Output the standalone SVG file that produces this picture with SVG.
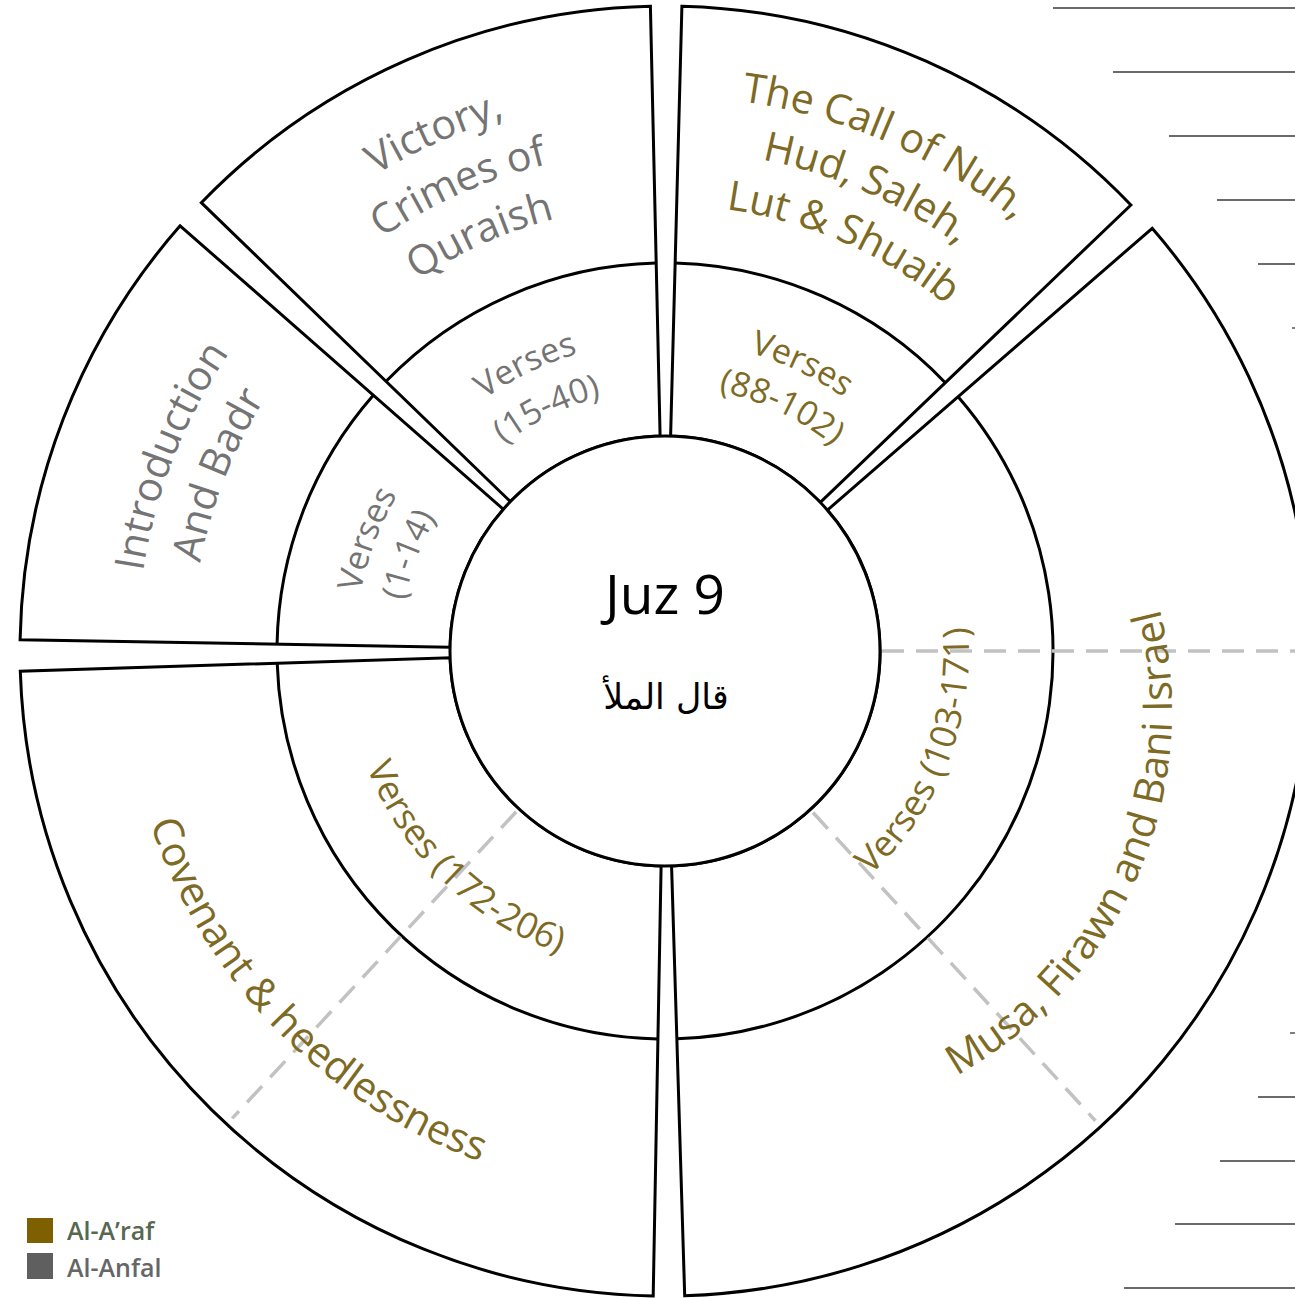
<svg xmlns="http://www.w3.org/2000/svg" width="1295" height="1298" viewBox="0 0 1295 1298">
  <style>
    .wedge { fill: #ffffff; stroke: #000000; stroke-width: 3; stroke-linejoin: miter; }
    .ring { fill: none; stroke: #000000; stroke-width: 3; }
    .hub { fill: #ffffff; stroke: #000000; stroke-width: 3; }
    .dash { fill: none; stroke: #c2c2c2; stroke-width: 3.5; stroke-dasharray: 22 12; }
    .rule { stroke: #3a3a3a; stroke-width: 1.3; }
    .lbl { font-family: "Open Sans", "Noto Sans", sans-serif; text-anchor: middle; }
    .big { font-size: 41px; }
    .vs { font-size: 34px; }
    .vl { font-size: 36px; }
    .gold { fill: #7d6a24; }
    .grey { fill: #747474; }
  </style>

  <defs>
    <!-- clockwise arcs over the top of a circle centred on the origin (letters face outward) -->
    <path id="cw557" d="M-554.88,-48.55 A557,557 0 0 1 554.88,-48.55"/>
    <path id="cw555" d="M-552.89,-48.37 A555,555 0 0 1 552.89,-48.37"/>
    <path id="cw528" d="M-525.99,-46.02 A528,528 0 0 1 525.99,-46.02"/>
    <path id="cw501" d="M-499.09,-43.67 A501,501 0 0 1 499.09,-43.67"/>
    <path id="cw473" d="M-471.20,-41.23 A473,473 0 0 1 471.20,-41.23"/>
    <path id="cw446" d="M-444.30,-38.87 A446,446 0 0 1 444.30,-38.87"/>
    <path id="cw310" d="M-308.82,-27.02 A310,310 0 0 1 308.82,-27.02"/>
    <path id="cw265" d="M-263.99,-23.10 A265,265 0 0 1 263.99,-23.10"/>
    <path id="cw262" d="M-261.00,-22.84 A262,262 0 0 1 261.00,-22.84"/>
    <!-- counter-clockwise arcs under the bottom (letters face inward) -->
    <path id="ccw543" d="M-540.93,47.33 A543,543 0 0 0 540.93,47.33"/>
    <path id="ccw418" d="M-416.41,36.43 A418,418 0 0 0 416.41,36.43"/>
    <path id="ccw320" d="M-318.78,27.89 A320,320 0 0 0 318.78,27.89"/>
    <path id="ccw304" d="M-302.84,26.50 A304,304 0 0 0 302.84,26.50"/>
  </defs>

  <rect x="0" y="0" width="1295" height="1298" fill="#ffffff"/>

  <!-- thin rules along the right margin -->
  <g id="margin-rules">
    <line class="rule" x1="1053" y1="8" x2="1295" y2="8"/>
    <line class="rule" x1="1113" y1="72" x2="1295" y2="72"/>
    <line class="rule" x1="1169" y1="136" x2="1295" y2="136"/>
    <line class="rule" x1="1217" y1="200" x2="1295" y2="200"/>
    <line class="rule" x1="1258" y1="264" x2="1295" y2="264"/>
    <line class="rule" x1="1292" y1="328" x2="1295" y2="328"/>
    <line class="rule" x1="1290" y1="1033" x2="1295" y2="1033"/>
    <line class="rule" x1="1258" y1="1097" x2="1295" y2="1097"/>
    <line class="rule" x1="1220" y1="1161" x2="1295" y2="1161"/>
    <line class="rule" x1="1175" y1="1224" x2="1295" y2="1224"/>
    <line class="rule" x1="1124" y1="1288" x2="1295" y2="1288"/>
  </g>

  <!-- ring wedges: centre (665,651), radii 215 / 388 / 645 -->
  <g id="intro-badr">
    <path class="wedge" d="M20.1,639.7 A645,645 0 0 1 180.1,225.8 L503.4,509.3 A215,215 0 0 0 450.03,647.25 Z"/>
    <path class="ring" d="M277.06,644.23 A388,388 0 0 1 373.3,395.2"/>
  </g>
  <g id="victory-quraish">
    <path class="wedge" d="M201.3,202.7 A645,645 0 0 1 650.4,6.2 L660.1,436.1 A215,215 0 0 0 510.4,501.6 Z"/>
    <path class="ring" d="M386.1,381.3 A388,388 0 0 1 656.2,263.1"/>
  </g>
  <g id="call-of-nuh">
    <path class="wedge" d="M681.9,6.2 A645,645 0 0 1 1130.9,205.0 L820.3,502.3 A215,215 0 0 0 670.6,436.1 Z"/>
    <path class="ring" d="M675.2,263.1 A388,388 0 0 1 945.3,382.7"/>
  </g>
  <g id="musa-firawn">
    <path class="wedge" d="M1152.2,228.3 A645,645 0 0 1 684.7,1295.7 L671.57,865.9 A215,215 0 0 0 827.4,510.1 Z"/>
    <path class="ring" d="M958.1,396.7 A388,388 0 0 1 676.85,1038.8"/>
  </g>
  <g id="covenant">
    <path class="wedge" d="M653.2,1295.9 A645,645 0 0 1 20.3,671.3 L450.1,657.75 A215,215 0 0 0 661.1,866.0 Z"/>
    <path class="ring" d="M657.9,1038.9 A388,388 0 0 1 277.2,663.2"/>
  </g>

  <!-- dashed dividers -->
  <g id="connectors">
    <line class="dash" x1="882" y1="651" x2="1300" y2="651"/>
    <line class="dash" x1="813" y1="812.5" x2="1095.4" y2="1120.7"/>
    <line class="dash" x1="516.2" y1="811.7" x2="232.2" y2="1118.4"/>
  </g>

  <g id="hub">
    <circle class="hub" cx="665" cy="651" r="215"/>
    <text x="665" y="614" font-family="'Open Sans', 'Noto Sans', sans-serif" font-size="55" text-anchor="middle" fill="#000000">Juz 9</text>
    <text x="666" y="709" font-family="'DejaVu Sans', 'Noto Sans', sans-serif" font-size="35" text-anchor="middle" fill="#000000">قال الملأ</text>
  </g>

  <!-- curved labels -->
  <g id="labels">
    <g transform="translate(665,651) rotate(-68.5)">
      <text class="lbl big grey"><textPath href="#cw528" startOffset="50%">Introduction</textPath></text>
      <text class="lbl big grey"><textPath href="#cw473" startOffset="50%">And Badr</textPath></text>
    </g>
    <g transform="translate(665,651) rotate(-69.4)">
      <text class="lbl vs grey"><textPath href="#cw310" startOffset="50%">Verses</textPath></text>
      <text class="lbl vs grey"><textPath href="#cw265" startOffset="50%">(1-14)</textPath></text>
    </g>

    <g transform="translate(665,651) rotate(-24)">
      <text class="lbl big grey"><textPath href="#cw557" startOffset="50%">Victory,</textPath></text>
      <text class="lbl big grey"><textPath href="#cw501" startOffset="50%">Crimes of</textPath></text>
      <text class="lbl big grey"><textPath href="#cw446" startOffset="50%">Quraish</textPath></text>
    </g>
    <g transform="translate(665,651) rotate(-26)">
      <text class="lbl vs grey"><textPath href="#cw310" startOffset="50%">Verses</textPath></text>
      <text class="lbl vs grey"><textPath href="#cw262" startOffset="50%">(15-40)</textPath></text>
    </g>

    <g transform="translate(665,651) rotate(23.5)">
      <text class="lbl big gold"><textPath href="#cw555" startOffset="50%">The Call of Nuh,</textPath></text>
      <text class="lbl big gold"><textPath href="#cw501" startOffset="50%">Hud, Saleh,</textPath></text>
      <text class="lbl big gold"><textPath href="#cw446" startOffset="50%">Lut &amp; Shuaib</textPath></text>
    </g>
    <g transform="translate(665,651) rotate(25.5)">
      <text class="lbl vs gold"><textPath href="#cw310" startOffset="50%">Verses</textPath></text>
      <text class="lbl vs gold"><textPath href="#cw265" startOffset="50%">(88-102)</textPath></text>
    </g>

    <g transform="translate(754,710) rotate(-66.5)">
      <text class="lbl big gold"><textPath href="#ccw418" startOffset="50%">Musa, Firawn and Bani Israel</textPath></text>
    </g>
    <g transform="translate(665,651) rotate(-68.5)">
      <text class="lbl vl gold"><textPath href="#ccw304" startOffset="50%">Verses (103-171)</textPath></text>
    </g>

    <g transform="translate(665,651) rotate(45.7)">
      <text class="lbl big gold"><textPath href="#ccw543" startOffset="50%">Covenant &amp; heedlessness</textPath></text>
    </g>
    <g transform="translate(665,651) rotate(44)">
      <text class="lbl vl gold"><textPath href="#ccw320" startOffset="50%">Verses (172-206)</textPath></text>
    </g>
  </g>

  <!-- legend -->
  <g id="legend">
    <rect x="27" y="1218" width="26" height="25" fill="#7f6000"/>
    <rect x="27" y="1253" width="26" height="26" fill="#5f5f5f"/>
    <text x="67" y="1240" font-family="'Open Sans', 'Noto Sans', sans-serif" font-size="25" font-weight="600" fill="#56684f">Al-A’raf</text>
    <text x="67" y="1277" font-family="'Open Sans', 'Noto Sans', sans-serif" font-size="25" font-weight="600" fill="#666666">Al-Anfal</text>
  </g>
</svg>
